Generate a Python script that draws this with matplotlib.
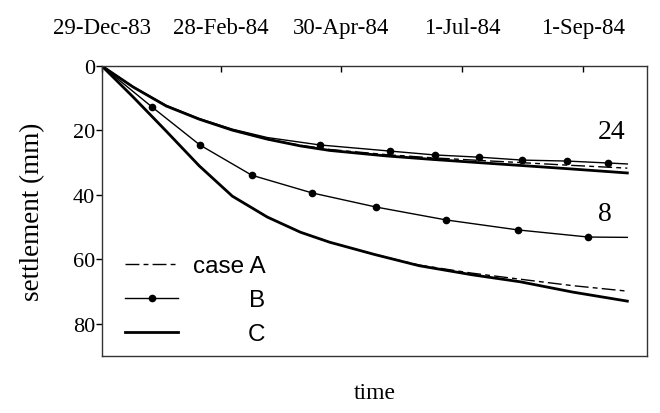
import matplotlib
matplotlib.use('Agg')
import matplotlib.pyplot as plt

plt.rcParams['font.family'] = ['Liberation Serif', 'DejaVu Serif']

# days since 29-Dec-83
tick_days = [0, 61, 123, 185, 247]
tick_labels = ['29-Dec-83', '28-Feb-84', '30-Apr-84', '1-Jul-84', '1-Sep-84']

# group "8"
days_8 = [0, 16, 33, 50, 67, 85, 102, 117, 140, 163, 190, 215, 242, 270]
a_8 = [0, 9.6, 20.2, 31, 40.4, 46.9, 51.6, 54.7, 58.5, 61.8, 64.3, 66.2, 68.2, 69.9]
c_8 = [0, 9.6, 20.2, 31, 40.4, 46.9, 51.6, 54.7, 58.5, 62.0, 64.8, 67.0, 70.2, 73.0]
days_b8 = [0, 25.7, 50.3, 77, 108, 141, 177, 214, 250, 270]
b_8 = [0, 12.7, 24.5, 33.9, 39.4, 43.8, 47.8, 50.9, 53.1, 53.2]

# group "24"
days_24 = [0, 16, 33, 50, 67, 85, 102, 117, 146, 170, 194, 216, 240, 270]
a_24 = [0, 6.5, 12.4, 16.5, 19.9, 22.7, 24.6, 25.9, 27.5, 28.5, 29.3, 30.0, 30.8, 31.7]
c_24 = [0, 6.5, 12.4, 16.5, 19.9, 22.7, 24.8, 26.2, 27.9, 29.0, 30.0, 30.9, 31.9, 33.2]
days_b24 = [0, 16, 33, 50, 67, 85, 112, 148, 171, 194, 216, 239, 260, 270]
b_24 = [0, 6.4, 12.2, 16.3, 19.6, 22.2, 24.5, 26.4, 27.6, 28.3, 29.2, 29.5, 30.1, 30.4]

fig, ax = plt.subplots(figsize=(6.6, 4.14), dpi=100)
fig.subplots_adjust(left=0.1545, right=0.980, top=0.838, bottom=0.138)

dashA = (0, (10, 3, 3.5, 3))
ax.plot(days_8, a_8, color='black', lw=1.0, linestyle=dashA, label='case A')
ax.plot(days_b8, b_8, color='black', lw=1.0, marker='o', ms=4.5,
        markevery=slice(1, -1), label='B')
ax.plot(days_8, c_8, color='black', lw=2.0, label='C')

ax.plot(days_24, a_24, color='black', lw=1.0, linestyle=dashA)
ax.plot(days_b24, b_24, color='black', lw=1.0, marker='o', ms=4.5,
        markevery=slice(6, -1))
ax.plot(days_24, c_24, color='black', lw=2.0)

ax.text(255, 20.3, '24', fontsize=20, va='center', ha='left')
ax.text(255, 45.8, '8', fontsize=20, va='center', ha='left')

ax.set_xlim(0, 280)
ax.set_ylim(90, 0)
ax.set_yticks([0, 20, 40, 60, 80])
ax.tick_params(axis='y', labelsize=16, direction='out', length=4, pad=1, width=1)

ax.xaxis.tick_top()
ax.set_xticks(tick_days)
ax.set_xticklabels(tick_labels)
ax.tick_params(axis='x', labelsize=16.5, direction='in', length=4, pad=20, width=1)
ax.xaxis.set_label_position('bottom')
ax.set_xlabel('time', fontsize=17, labelpad=19)
ax.set_ylabel('settlement (mm)', fontsize=19.5, labelpad=20)

for s in ax.spines.values():
    s.set_linewidth(1.0)
    s.set_color('#333333')

leg = ax.legend(loc='upper left', bbox_to_anchor=(0.042, 0.348), frameon=False,
                handlelength=2.2, handletextpad=0.6,
                labelspacing=0.5, borderpad=0, borderaxespad=0,
                prop={'family': 'Liberation Sans', 'size': 17.5})

# right-align the legend labels like the original
renderer = fig.canvas.get_renderer()
widths = [t.get_window_extent(renderer).width for t in leg.get_texts()]
shift = max(widths)
for t, w in zip(leg.get_texts(), widths):
    t.set_position((shift - w, 0))

fig.savefig('out.png', dpi=100)
